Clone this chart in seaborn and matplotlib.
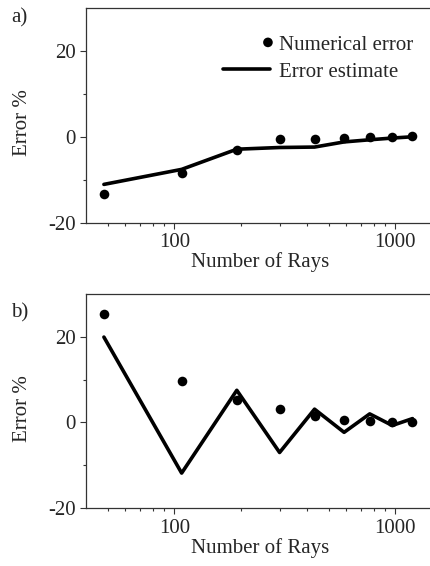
import numpy as np
import pandas as pd
import matplotlib
matplotlib.use("Agg")
import matplotlib.pyplot as plt
import seaborn as sns
from matplotlib.collections import PathCollection
from matplotlib.legend_handler import HandlerPathCollection
from matplotlib.ticker import FixedLocator, FixedFormatter, NullFormatter

# number of rays (shared by both panels)
rays = [48, 108, 192, 300, 432, 588, 768, 972, 1200]

# panel a)
num_err_a = [-13.3, -8.3, -3.0, -0.5, -0.5, -0.1, 0.1, 0.1, 0.3]
est_err_a = [-11.0, -7.5, -2.8, -2.4, -2.3, -1.1, -0.6, -0.2, 0.1]

# panel b)
num_err_b = [25.3, 9.7, 5.2, 3.1, 1.6, 0.5, 0.3, 0.0, 0.0]
est_err_b = [19.9, -11.8, 7.5, -7.0, 3.1, -2.3, 2.0, -0.7, 0.9]

x_major = [100, 1000]
x_major_labels = ["100", "1000"]
x_minor = [50, 60, 70, 80, 90, 200, 300, 400, 500, 600, 700, 800, 900]
y_major = [-20, 0, 20]
y_major_labels = ["-20", "0", "20"]
y_minor = [-10, 10]

sns.set_style("ticks")
plt.rcParams["font.family"] = ["Liberation Serif", "DejaVu Serif"]
plt.rcParams["axes.unicode_minus"] = False

FS = 15
DOT = 48


def draw_panel(ax, num_err, est_err, legend=False):
    df = pd.DataFrame({"rays": rays, "num": num_err, "est": est_err})
    sns.lineplot(data=df, x="rays", y="est", color="black", lw=2.6,
                 label="Error estimate", ax=ax, legend=False)
    sns.scatterplot(data=df, x="rays", y="num", color="black", s=DOT,
                    linewidth=0, label="Numerical error", ax=ax,
                    legend=False, zorder=3)
    ax.set_xscale("log")
    ax.set_xlim(40, 1500)
    ax.set_ylim(-20, 30)

    ax.xaxis.set_major_locator(FixedLocator(x_major))
    ax.xaxis.set_major_formatter(FixedFormatter(x_major_labels))
    ax.xaxis.set_minor_locator(FixedLocator(x_minor))
    ax.xaxis.set_minor_formatter(NullFormatter())
    ax.yaxis.set_major_locator(FixedLocator(y_major))
    ax.yaxis.set_major_formatter(FixedFormatter(y_major_labels))
    ax.yaxis.set_minor_locator(FixedLocator(y_minor))

    ax.tick_params(which="major", length=4.5, width=0.8, pad=3,
                   labelsize=FS, color="#333333")
    ax.tick_params(which="minor", length=2.5, width=0.8, color="#333333")
    for side in ["left", "bottom", "top"]:
        ax.spines[side].set_linewidth(0.9)
        ax.spines[side].set_color("#333333")
    ax.spines["right"].set_visible(False)

    ax.set_xlabel("Number of Rays", fontsize=FS, labelpad=0)
    ax.set_ylabel("Error %", fontsize=FS)
    ax.yaxis.set_label_coords(-0.158, 0.467)

    if legend:
        handles, labels = ax.get_legend_handles_labels()
        order = [labels.index("Numerical error"), labels.index("Error estimate")]
        ax.legend([handles[i] for i in order], [labels[i] for i in order],
                  loc="upper left", bbox_to_anchor=(0.518, 0.938),
                  bbox_transform=ax.figure.transFigure,
                  frameon=False, fontsize=FS, borderpad=0, borderaxespad=0,
                  handlelength=2.27, handletextpad=0.43, labelspacing=0.35,
                  scatterpoints=2, scatteryoffsets=[0.5, 0.5],
                  handler_map={PathCollection: HandlerPathCollection(
                      numpoints=2, sizes=[0, DOT], marker_pad=0.1)})


fig = plt.figure(figsize=(4.3, 5.66), dpi=100)
ax_a = fig.add_axes([0.201, 0.606, 0.808, 0.379])
ax_b = fig.add_axes([0.201, 0.102, 0.808, 0.379])

draw_panel(ax_a, num_err_a, est_err_a, legend=True)
draw_panel(ax_b, num_err_b, est_err_b)

fig.text(19 / 430, 1 - 18 / 566, "a)", fontsize=FS, ha="center", va="center")
fig.text(20 / 430, 1 - 313 / 566, "b)", fontsize=FS, ha="center", va="center")

fig.savefig("out.png", dpi=100, facecolor="white")
